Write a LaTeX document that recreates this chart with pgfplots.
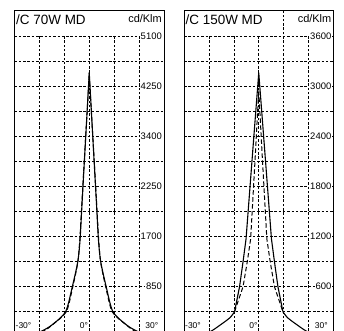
\documentclass[border=0pt]{standalone}
\usepackage{pgfplots}
\pgfplotsset{compat=1.18}
\usepackage{fontspec}
\setmainfont{Liberation Sans}
\tikzset{
  gridl/.style={black, line width=0.6bp, dash pattern=on 2.5bp off 1.8bp},
  lbl/.style={fill=white, inner sep=1bp, font=\fontsize{9.5}{10}\selectfont},
  albl/.style={fill=white, inner sep=0.5bp, font=\fontsize{8.5}{10}\selectfont},
}
\pgfplotsset{
  panel/.style={scale only axis, width=149.5bp, height=321bp, xmin=-30, xmax=30,
    axis line style={draw=none}, xtick=\empty, ytick=\empty, anchor=south west,
    clip mode=individual},
  sol/.style={black, line width=1.1bp},
  das/.style={black, line width=1bp, dash pattern=on 4.5bp off 2.5bp},
}
\begin{document}
\begin{tikzpicture}
\useasboundingbox (0,0) rectangle (344bp,331bp);
% ---------------- left panel
\begin{axis}[panel, at={(14.5bp,0bp)}, ymin=85, ymax=5542]
\pgfplotsinvokeforeach{425,850,1275,1700,2125,2550,2975,3400,3825,4250,4675,5100}{
  \draw[gridl] (axis cs:-30,#1) -- (axis cs:30,#1);}
\pgfplotsinvokeforeach{-20,-10,0,10,20}{
  \draw[gridl] (axis cs:#1,85) -- (axis cs:#1,5100);}
\node[lbl, anchor=east] at ([xshift=-1bp]axis cs:30,5100) {5100};
\node[lbl, anchor=east] at ([xshift=-1bp]axis cs:30,4250) {4250};
\node[lbl, anchor=east] at ([xshift=-1bp]axis cs:30,3400) {3400};
\node[lbl, anchor=east] at ([xshift=-1bp]axis cs:30,2550) {2250};
\node[lbl, anchor=east] at ([xshift=-1bp]axis cs:30,1700) {1700};
\node[lbl, anchor=east] at ([xshift=-1bp]axis cs:30,850) {850};
\node[anchor=base west, inner sep=0pt, font=\fontsize{13.5}{14}\selectfont] at ([xshift=1.5bp,yshift=-15bp]rel axis cs:0,1) {/C 70W MD};
\node[anchor=base east, inner sep=0pt, font=\fontsize{11}{12}\selectfont] at ([xshift=-2bp,yshift=-12.5bp]rel axis cs:1,1) {cd/Klm};
\addplot[sol, smooth, tension=0.45] coordinates {(-22,40) (-19,85) (-15,187) (-9.5,413) (-6.8,838) (-4.6,1263) (-3.7,1632) (-3,2170) (-2,2938) (-1,3707) (0,4476)};
\addplot[sol, smooth, tension=0.45] coordinates {(0,4476) (1,3707) (2,2938) (3,2170) (3.7,1632) (4.6,1263) (6.8,838) (9.5,413) (15,187) (19,85) (22,40)};
\addplot[das, smooth, tension=0.45] coordinates {(-22,30) (-18,90) (-14.5,200) (-9.2,413) (-6.6,838) (-4.6,1250) (-3.8,1632) (-3,2230) (-2,2980) (-1,3700) (0,4440)};
\addplot[das, smooth, tension=0.45] coordinates {(0,4440) (1,3700) (2,2980) (3,2230) (3.8,1632) (4.6,1250) (6.6,838) (9.2,413) (14.5,200) (18,90) (22,30)};
\node[albl, anchor=base west] at ([xshift=0.5bp,yshift=3bp]axis cs:-30,85) {-30°};
\node[albl, anchor=base east] at ([xshift=-0.5bp,yshift=3bp]axis cs:0,85) {0°};
\node[albl, anchor=base east] at ([xshift=-5bp,yshift=3bp]axis cs:30,85) {30°};
\draw[black, line width=0.8bp] (rel axis cs:0,0) -- (rel axis cs:0,1) -- (rel axis cs:1,1) -- (rel axis cs:1,0);
\end{axis}
% ---------------- right panel
\begin{axis}[panel, at={(184bp,0bp)}, ymin=60, ymax=3912]
\pgfplotsinvokeforeach{300,600,900,1200,1500,1800,2100,2400,2700,3000,3300,3600}{
  \draw[gridl] (axis cs:-30,#1) -- (axis cs:30,#1);}
\pgfplotsinvokeforeach{-20,-10,0,20}{
  \draw[gridl] (axis cs:#1,60) -- (axis cs:#1,3600);}
\draw[gridl] (axis cs:10,60) -- (axis cs:10,3912);
\node[lbl, anchor=east] at ([xshift=-1bp]axis cs:30,3600) {3600};
\node[lbl, anchor=east] at ([xshift=-1bp]axis cs:30,3000) {3000};
\node[lbl, anchor=east] at ([xshift=-1bp]axis cs:30,2400) {2400};
\node[lbl, anchor=east] at ([xshift=-1bp]axis cs:30,1800) {1800};
\node[lbl, anchor=east] at ([xshift=-1bp]axis cs:30,1200) {1200};
\node[lbl, anchor=east] at ([xshift=-1bp]axis cs:30,600) {600};
\node[anchor=base west, inner sep=0pt, font=\fontsize{13.5}{14}\selectfont] at ([xshift=1.5bp,yshift=-15bp]rel axis cs:0,1) {/C 150W MD};
\node[anchor=base east, inner sep=0pt, font=\fontsize{11}{12}\selectfont] at ([xshift=-2bp,yshift=-12.5bp]rel axis cs:1,1) {cd/Klm};
% tails (below the knee), smooth
\addplot[sol, smooth, tension=0.5] coordinates {(-22,20) (-19,60) (-16.4,112) (-11.7,216) (-9.7,292)};
\addplot[sol, smooth, tension=0.5] coordinates {(9.7,292) (11.7,216) (16.4,112) (19,60) (22,20)};
% central parts
\addplot[sol] coordinates {(-9.7,292) (-7.7,592) (-6.3,892) (-5.1,1165) (-2.35,2244) (0,3160)
  (2.35,2244) (5.1,1165) (6.3,892) (7.7,592) (9.7,292)};
\addplot[das] coordinates {(-9.7,292) (-6.3,592) (-4.6,892) (-3.25,1165) (-1.25,2240) (0,2950)
  (1.25,2240) (3.25,1165) (4.6,892) (6.3,592) (9.7,292)};
\node[albl, anchor=base west] at ([xshift=0.5bp,yshift=3bp]axis cs:-30,60) {-30°};
\node[albl, anchor=base east] at ([xshift=-0.5bp,yshift=3bp]axis cs:0,60) {0°};
\node[albl, anchor=base east] at ([xshift=-5bp,yshift=3bp]axis cs:30,60) {30°};
\draw[black, line width=0.8bp] (rel axis cs:0,0) -- (rel axis cs:0,1) -- (rel axis cs:1,1) -- (rel axis cs:1,0);
\end{axis}
\end{tikzpicture}
\end{document}
